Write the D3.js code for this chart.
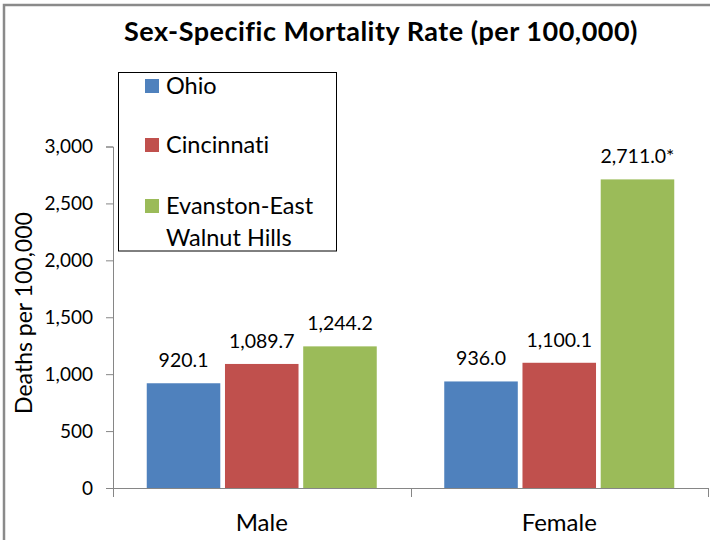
<!DOCTYPE html>
<html>
<head>
<meta charset="utf-8">
<script src="https://cdn.jsdelivr.net/npm/d3@7"></script>
<style>
  html, body { margin: 0; padding: 0; background: #fff; }
  svg { display: block; }
  text { font-family: "Lato", "Carlito", sans-serif; fill: #000; font-variant-ligatures: none; }
</style>
</head>
<body>
<svg id="chart" width="710" height="540"></svg>
<script>
// ---- data ----
const categories = ["Male", "Female"];
const seriesNames = ["Ohio", "Cincinnati", "Evanston-East Walnut Hills"];
const legendLines = [["Ohio"], ["Cincinnati"], ["Evanston-East", "Walnut Hills"]];
const ohio = [920.1, 936.0];
const cincinnati = [1089.7, 1100.1];
const evanston = [1244.2, 2711.0];
const evanstonNotes = ["", "*"];
const yTicks = [0, 500, 1000, 1500, 2000, 2500, 3000];
const colors = ["#4F81BD", "#C0504D", "#9BBB59"];
const titleText = "Sex-Specific Mortality Rate (per 100,000)";
const yTitle = "Deaths per 100,000";

const seriesValues = [ohio, cincinnati, evanston];
const seriesNotes = [["", ""], ["", ""], evanstonNotes];

// ---- layout ----
const svg = d3.select("#chart");
const plot = { left: 113, right: 708, top: 146.5, bottom: 488 };

// outer frame
svg.append("rect")
  .attr("x", 4).attr("y", 5).attr("width", 760).attr("height", 600)
  .attr("fill", "none").attr("stroke", "#8a8a8a").attr("stroke-width", 2.5);

const y = d3.scaleLinear().domain([0, 3000]).range([plot.bottom, plot.top]);
const x0 = d3.scaleBand().domain(categories).range([plot.left, plot.right]).padding(0);
const groupPad = 33.75;
const x1 = d3.scaleBand().domain(seriesNames)
  .range([groupPad, x0.bandwidth() - groupPad]).paddingInner(0.06).paddingOuter(0);

// title
svg.append("text")
  .attr("x", 381).attr("y", 41)
  .attr("text-anchor", "middle")
  .style("font-weight", "bold").style("font-size", "27px")
  .style("letter-spacing", "0.5px")
  .text(titleText);

// y axis
const yAxis = d3.axisLeft(y).tickValues(yTicks).tickFormat(d3.format(",")).tickSize(7).tickPadding(13);
const gy = svg.append("g").attr("transform", `translate(${plot.left},0)`).call(yAxis);
gy.select(".domain").attr("stroke", "#868686");
gy.selectAll(".tick line").attr("stroke", "#868686");
gy.selectAll(".tick text").style("font-size", "19px").style("font-family", "Lato").attr("fill", "#000");

// x axis
const xAxis = d3.axisBottom(x0).tickSize(0).tickPadding(0);
const gx = svg.append("g").attr("transform", `translate(0,${plot.bottom})`).call(xAxis);
gx.select(".domain").attr("stroke", "#868686").attr("d", `M${plot.left - 7},0.5H${plot.right}`);
gx.selectAll(".tick text").style("font-size", "24px").style("font-family", "Lato").attr("fill", "#000")
  .attr("y", 43).attr("dy", 0);
// category boundary ticks
const bounds = [plot.left, ...categories.map(c => x0(c) + x0.bandwidth())];
gx.selectAll(".bound").data(bounds).join("line")
  .attr("class", "bound")
  .attr("x1", d => Math.round(d) + 0.5).attr("x2", d => Math.round(d) + 0.5)
  .attr("y1", 0).attr("y2", 9)
  .attr("stroke", "#868686");

// bars
const groups = svg.append("g").selectAll("g").data(categories).join("g")
  .attr("transform", c => `translate(${x0(c)},0)`);
groups.selectAll("rect")
  .data((c, ci) => seriesNames.map((s, si) => ({ s, si, v: seriesValues[si][ci] })))
  .join("rect")
  .attr("x", d => x1(d.s))
  .attr("width", x1.bandwidth())
  .attr("y", d => y(d.v))
  .attr("height", d => y(0) - y(d.v))
  .attr("fill", d => colors[d.si]);

// data labels
const fmt = d3.format(",.1f");
groups.selectAll("text.lbl")
  .data((c, ci) => seriesNames.map((s, si) => ({ s, si, v: seriesValues[si][ci], n: seriesNotes[si][ci] })))
  .join("text")
  .attr("class", "lbl")
  .attr("x", d => x1(d.s) + x1.bandwidth() / 2)
  .attr("y", d => y(d.v) - 16)
  .attr("text-anchor", "middle")
  .style("font-size", "19.5px")
  .text(d => fmt(d.v) + d.n);

// y title
svg.append("text")
  .attr("transform", "translate(32,313) rotate(-90)")
  .attr("text-anchor", "middle")
  .style("font-size", "23px")
  .text(yTitle);

// legend
const lg = svg.append("g");
lg.append("rect")
  .attr("x", 118.5).attr("y", 72.5).attr("width", 218).attr("height", 178.5)
  .attr("fill", "#fff").attr("stroke", "#000").attr("stroke-width", 1);
const itemY = [86, 145, 206];
const items = lg.selectAll("g.item").data(seriesNames).join("g").attr("class", "item")
  .attr("transform", (d, i) => `translate(145,${itemY[i]})`);
items.append("rect")
  .attr("x", 0).attr("y", -7).attr("width", 14).attr("height", 14)
  .attr("fill", (d, i) => colors[i]);
items.each(function (d, i) {
  const t = d3.select(this).append("text")
    .attr("x", 21).attr("y", 8)
    .style("font-size", "23.5px");
  legendLines[i].forEach((line, li) => {
    t.append("tspan").attr("x", 21).attr("dy", li === 0 ? 0 : 32).text(line);
  });
});
</script>
</body>
</html>
